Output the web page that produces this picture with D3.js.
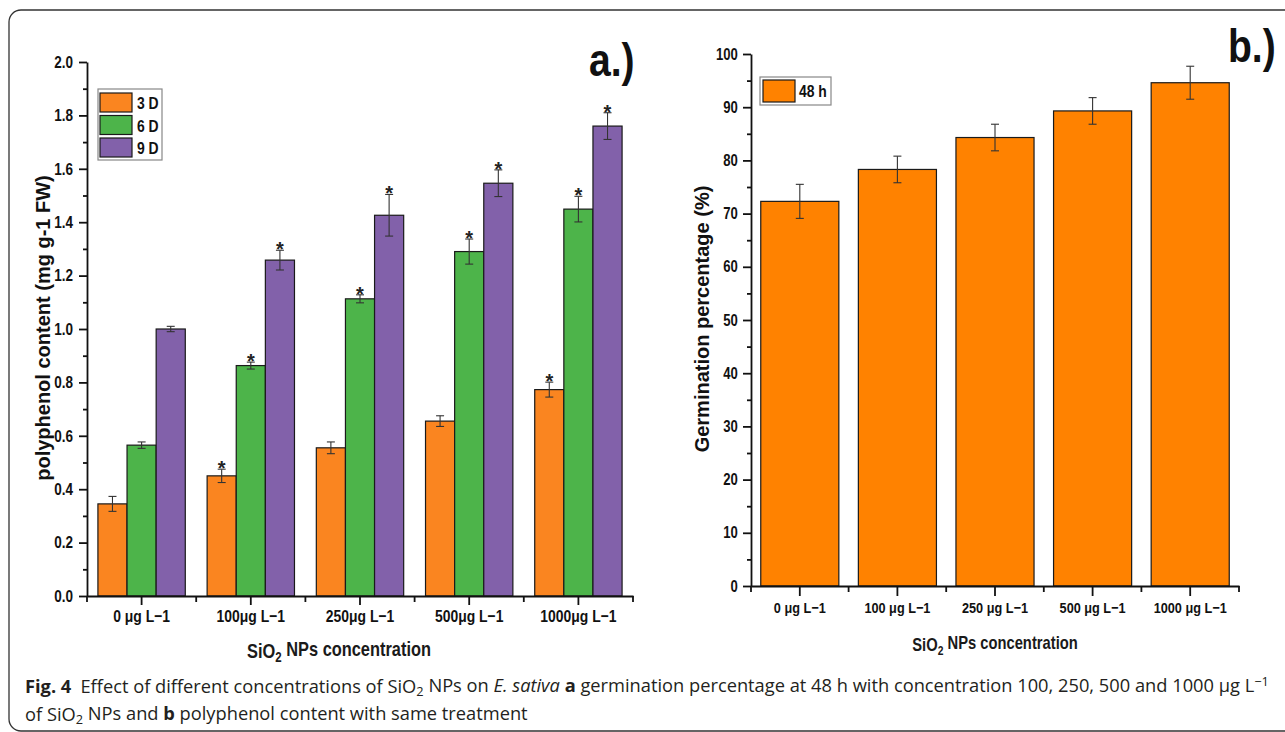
<!DOCTYPE html>
<html>
<head>
<meta charset="utf-8">
<script src="https://cdn.jsdelivr.net/npm/d3@7"></script>
<style>
  body { margin: 0; background: #fff; }
  svg { display: block; }
</style>
</head>
<body>
<svg id="fig" width="1285" height="732"></svg>
<script>
// panel a.) polyphenol content
const polyCats = ["0 μg L−1", "100μg L−1", "250μg L−1", "500μg L−1", "1000μg L−1"];
const polySeries = ["3 D", "6 D", "9 D"];
const poly3D = [0.345, 0.45, 0.555, 0.655, 0.773];
const poly3DErr = [0.028, 0.025, 0.022, 0.02, 0.028];
const poly6D = [0.565, 0.863, 1.113, 1.29, 1.449];
const poly6DErr = [0.012, 0.013, 0.015, 0.047, 0.048];
const poly9D = [1.0, 1.258, 1.426, 1.546, 1.76];
const poly9DErr = [0.01, 0.037, 0.078, 0.05, 0.05];
const poly3DStar = [false, true, false, false, true];
const poly6DStar = [false, true, true, true, true];
const poly9DStar = [false, true, true, true, true];
const polyTicks = [0, 0.2, 0.4, 0.6, 0.8, 1.0, 1.2, 1.4, 1.6, 1.8, 2.0];
const polyMinor = [0.1, 0.3, 0.5, 0.7, 0.9, 1.1, 1.3, 1.5, 1.7, 1.9];

// panel b.) germination percentage
const germCats = ["0 μg L−1", "100 μg L−1", "250 μg L−1", "500 μg L−1", "1000 μg L−1"];
const germSeries = ["48 h"];
const germValues = [72.3, 78.3, 84.3, 89.3, 94.6];
const germErr = [3.2, 2.5, 2.5, 2.5, 3.1];
const germTicks = [0, 10, 20, 30, 40, 50, 60, 70, 80, 90, 100];
const germMinor = [5, 15, 25, 35, 45, 55, 65, 75, 85, 95];

const arial = "'Liberation Sans', Arial, sans-serif";
const squeeze = "scale(0.82,1)";   // stands in for Arial Narrow, which is not installed
const polyColors = { "3 D": "#fa8520", "6 D": "#4db44a", "9 D": "#8261aa" };
const germColor = "#ff8200";

const svg = d3.select("#fig");

// rounded frame around the figure
svg.append("rect")
  .attr("x", 9).attr("y", 10)
  .attr("width", 1300).attr("height", 721)
  .attr("rx", 12)
  .attr("fill", "none")
  .attr("stroke", "#333")
  .attr("stroke-width", 1.3);

function styleAxis(g, fontSize) {
  g.selectAll("path.domain").attr("stroke", "#111").attr("stroke-width", 1.8);
  g.selectAll(".tick line").attr("stroke", "#111").attr("stroke-width", 1.8);
  g.selectAll(".tick text")
    .attr("fill", "#111")
    .attr("transform", squeeze)
    .style("font-family", arial)
    .style("font-weight", "bold")
    .style("font-size", fontSize + "px");
}

function xTitle(x, y, size) {
  const t = svg.append("text")
    .attr("transform", "translate(" + x + "," + y + ") " + squeeze)
    .attr("text-anchor", "middle")
    .style("font-family", arial)
    .style("font-weight", "bold")
    .style("font-size", size + "px")
    .attr("fill", "#1a1a1a");
  t.append("tspan").text("SiO");
  t.append("tspan").attr("dy", "0.3em").style("font-size", "0.7em").text("2");
  t.append("tspan").attr("dy", "-0.3em").text(" NPs concentration");
}

function minorX(scale, y, len) {
  const edges = scale.domain().map(c => scale(c)).concat([scale.range()[1]]);
  svg.append("g")
    .selectAll("line")
    .data(edges)
    .enter()
    .append("line")
    .attr("x1", d => d).attr("x2", d => d)
    .attr("y1", y).attr("y2", y + len)
    .attr("stroke", "#111")
    .attr("stroke-width", 1.8);
}

function errorBars(g, data, xPos, yScale, cap) {
  const eb = g.selectAll("g.err")
    .data(data)
    .enter()
    .append("g")
    .attr("class", "err")
    .attr("stroke", "#333")
    .attr("stroke-width", 1.1);
  eb.append("line")
    .attr("x1", xPos).attr("x2", xPos)
    .attr("y1", d => yScale(d.v + d.e)).attr("y2", d => yScale(d.v - d.e));
  eb.append("line")
    .attr("x1", d => xPos(d) - cap).attr("x2", d => xPos(d) + cap)
    .attr("y1", d => yScale(d.v + d.e)).attr("y2", d => yScale(d.v + d.e));
  eb.append("line")
    .attr("x1", d => xPos(d) - cap).attr("x2", d => xPos(d) + cap)
    .attr("y1", d => yScale(d.v - d.e)).attr("y2", d => yScale(d.v - d.e));
}

// ---------- panel a ----------
const polyRows = polyCats.map((c, i) => ({
  cat: c,
  vals: [
    { s: "3 D", v: poly3D[i], e: poly3DErr[i], star: poly3DStar[i] },
    { s: "6 D", v: poly6D[i], e: poly6DErr[i], star: poly6DStar[i] },
    { s: "9 D", v: poly9D[i], e: poly9DErr[i], star: poly9DStar[i] }
  ]
}));

const xA = d3.scaleBand().domain(polyCats).range([87, 633]).padding(0);
const xASub = d3.scaleBand().domain(polySeries)
  .range([xA.bandwidth() * 0.1, xA.bandwidth() * 0.9]);
const yA = d3.scaleLinear().domain([0, 2]).range([596, 62]);

const groupsA = svg.append("g")
  .selectAll("g")
  .data(polyRows)
  .enter()
  .append("g")
  .attr("transform", d => "translate(" + xA(d.cat) + ",0)");

groupsA.selectAll("rect")
  .data(d => d.vals)
  .enter()
  .append("rect")
  .attr("x", d => xASub(d.s))
  .attr("y", d => yA(d.v))
  .attr("width", xASub.bandwidth())
  .attr("height", d => yA(0) - yA(d.v))
  .attr("fill", d => polyColors[d.s])
  .attr("stroke", "#1a1a1a")
  .attr("stroke-width", 1.2);

groupsA.each(function (row) {
  const g = d3.select(this);
  const cx = d => xASub(d.s) + xASub.bandwidth() / 2;
  errorBars(g, row.vals, cx, yA, 4);
  g.selectAll("text.star")
    .data(row.vals.filter(d => d.star))
    .enter()
    .append("text")
    .attr("class", "star")
    .attr("x", cx)
    .attr("y", d => yA(d.v + d.e) + 6)
    .attr("text-anchor", "middle")
    .style("font-family", arial)
    .style("font-weight", "bold")
    .style("font-size", "20px")
    .attr("fill", "#222")
    .text("*");
});

svg.append("g")
  .attr("transform", "translate(87,0)")
  .call(d3.axisLeft(yA).tickValues(polyTicks).tickFormat(d3.format(".1f"))
    .tickSize(8).tickPadding(9).tickSizeOuter(0))
  .call(g => styleAxis(g, 16.5));

svg.append("g")
  .attr("transform", "translate(87,0)")
  .call(d3.axisLeft(yA).tickValues(polyMinor).tickFormat("").tickSize(4).tickSizeOuter(0))
  .call(g => { g.select("path.domain").remove(); styleAxis(g, 16); });

svg.append("g")
  .attr("transform", "translate(0,596)")
  .call(d3.axisBottom(xA).tickSize(9).tickPadding(5).tickSizeOuter(0))
  .call(g => styleAxis(g, 17));
minorX(xA, 596, 6);

svg.append("text")
  .attr("transform", "translate(43,328) rotate(-90)")
  .attr("text-anchor", "middle")
  .attr("dy", "0.35em")
  .style("font-family", arial)
  .style("font-weight", "bold")
  .style("font-size", "20px")
  .attr("fill", "#111")
  .text("polyphenol content (mg g-1 FW)");

xTitle(339, 658, 20);

svg.append("text")
  .attr("transform", "translate(589,76) scale(0.85,1)")
  .style("font-family", arial)
  .style("font-weight", "bold")
  .style("font-size", "46px")
  .attr("fill", "#111")
  .text("a.)");

// legend a
const legA = svg.append("g");
legA.append("rect")
  .attr("x", 98).attr("y", 89).attr("width", 64).attr("height", 71)
  .attr("fill", "#fff").attr("stroke", "#888").attr("stroke-width", 1.2);
const legARows = legA.selectAll("g")
  .data(polySeries)
  .enter()
  .append("g")
  .attr("transform", (d, i) => "translate(100," + (93 + i * 22.5) + ")");
legARows.append("rect")
  .attr("width", 32).attr("height", 19)
  .attr("fill", d => polyColors[d])
  .attr("stroke", "#1a1a1a").attr("stroke-width", 1.2);
legARows.append("text")
  .attr("transform", "translate(37,16) " + squeeze)
  .style("font-family", arial)
  .style("font-weight", "bold")
  .style("font-size", "17px")
  .attr("fill", "#111")
  .text(d => d);

// ---------- panel b ----------
const germRows = germCats.map((c, i) => ({ cat: c, v: germValues[i], e: germErr[i] }));

const xB = d3.scaleBand().domain(germCats).range([751, 1239]).padding(0);
const yB = d3.scaleLinear().domain([0, 100]).range([586, 54]);
const barPad = xB.bandwidth() * 0.1;

svg.append("g")
  .selectAll("rect")
  .data(germRows)
  .enter()
  .append("rect")
  .attr("x", d => xB(d.cat) + barPad)
  .attr("y", d => yB(d.v))
  .attr("width", xB.bandwidth() - 2 * barPad)
  .attr("height", d => yB(0) - yB(d.v))
  .attr("fill", germColor)
  .attr("stroke", "#1a1a1a")
  .attr("stroke-width", 1.2);

errorBars(svg.append("g"), germRows, d => xB(d.cat) + xB.bandwidth() / 2, yB, 4);

svg.append("g")
  .attr("transform", "translate(751,0)")
  .call(d3.axisLeft(yB).tickValues(germTicks).tickSize(8).tickPadding(8).tickSizeOuter(0))
  .call(g => styleAxis(g, 16));

svg.append("g")
  .attr("transform", "translate(751,0)")
  .call(d3.axisLeft(yB).tickValues(germMinor).tickFormat("").tickSize(4).tickSizeOuter(0))
  .call(g => { g.select("path.domain").remove(); styleAxis(g, 16); });

svg.append("g")
  .attr("transform", "translate(0,586)")
  .call(d3.axisBottom(xB).tickSize(10).tickPadding(6).tickSizeOuter(0))
  .call(g => styleAxis(g, 15.5));
minorX(xB, 586, 6);

svg.append("text")
  .attr("transform", "translate(702,319) rotate(-90)")
  .attr("text-anchor", "middle")
  .attr("dy", "0.35em")
  .style("font-family", arial)
  .style("font-weight", "bold")
  .style("font-size", "20px")
  .attr("fill", "#111")
  .text("Germination percentage (%)");

xTitle(995, 651, 18);

svg.append("text")
  .attr("transform", "translate(1228,62) scale(0.85,1)")
  .style("font-family", arial)
  .style("font-weight", "bold")
  .style("font-size", "46px")
  .attr("fill", "#111")
  .text("b.)");

// legend b
const legB = svg.append("g");
legB.append("rect")
  .attr("x", 760).attr("y", 77).attr("width", 71).attr("height", 28)
  .attr("fill", "#fff").attr("stroke", "#888").attr("stroke-width", 1.2);
legB.selectAll("g")
  .data(germSeries)
  .enter()
  .append("g")
  .attr("transform", "translate(763,80)")
  .call(g => {
    g.append("rect")
      .attr("width", 32).attr("height", 22)
      .attr("fill", germColor)
      .attr("stroke", "#1a1a1a").attr("stroke-width", 1.2);
    g.append("text")
      .attr("transform", "translate(36,17) " + squeeze)
      .style("font-family", arial)
      .style("font-weight", "bold")
      .style("font-size", "17px")
      .attr("fill", "#111")
      .text(d => d);
  });

// ---------- caption ----------
const cap = svg.append("g")
  .style("font-family", "'Open Sans', 'Noto Sans', sans-serif")
  .style("font-size", "18.5px")
  .attr("fill", "#231f20");

const line1 = cap.append("text").attr("x", 0).attr("y", 693);
line1.append("tspan").style("font-weight", "bold").text("Fig. 4");
line1.append("tspan").text("\u2002Effect of different concentrations of SiO");
line1.append("tspan").attr("dy", "0.22em").style("font-size", "0.7em").text("2");
line1.append("tspan").attr("dy", "-0.22em").text(" NPs on ");
line1.append("tspan").style("font-style", "italic").text("E. sativa");
line1.append("tspan").text(" ");
line1.append("tspan").style("font-weight", "bold").text("a");
line1.append("tspan").text(" germination percentage at 48 h with concentration 100, 250, 500 and 1000 μg L");
line1.append("tspan").attr("dy", "-0.45em").style("font-size", "0.7em").text("−1");

const line2 = cap.append("text").attr("x", 0).attr("y", 721);
line2.append("tspan").text("of SiO");
line2.append("tspan").attr("dy", "0.22em").style("font-size", "0.7em").text("2");
line2.append("tspan").attr("dy", "-0.22em").text(" NPs and ");
line2.append("tspan").style("font-weight", "bold").text("b");
line2.append("tspan").text(" polyphenol content with same treatment");

// squeeze the caption to the width it has in the figure
const capWidth = line1.node().getBBox().width;
const k = 1245 / capWidth;
cap.attr("transform", "translate(25,0) scale(" + k + ",1)");
</script>
</body>
</html>
